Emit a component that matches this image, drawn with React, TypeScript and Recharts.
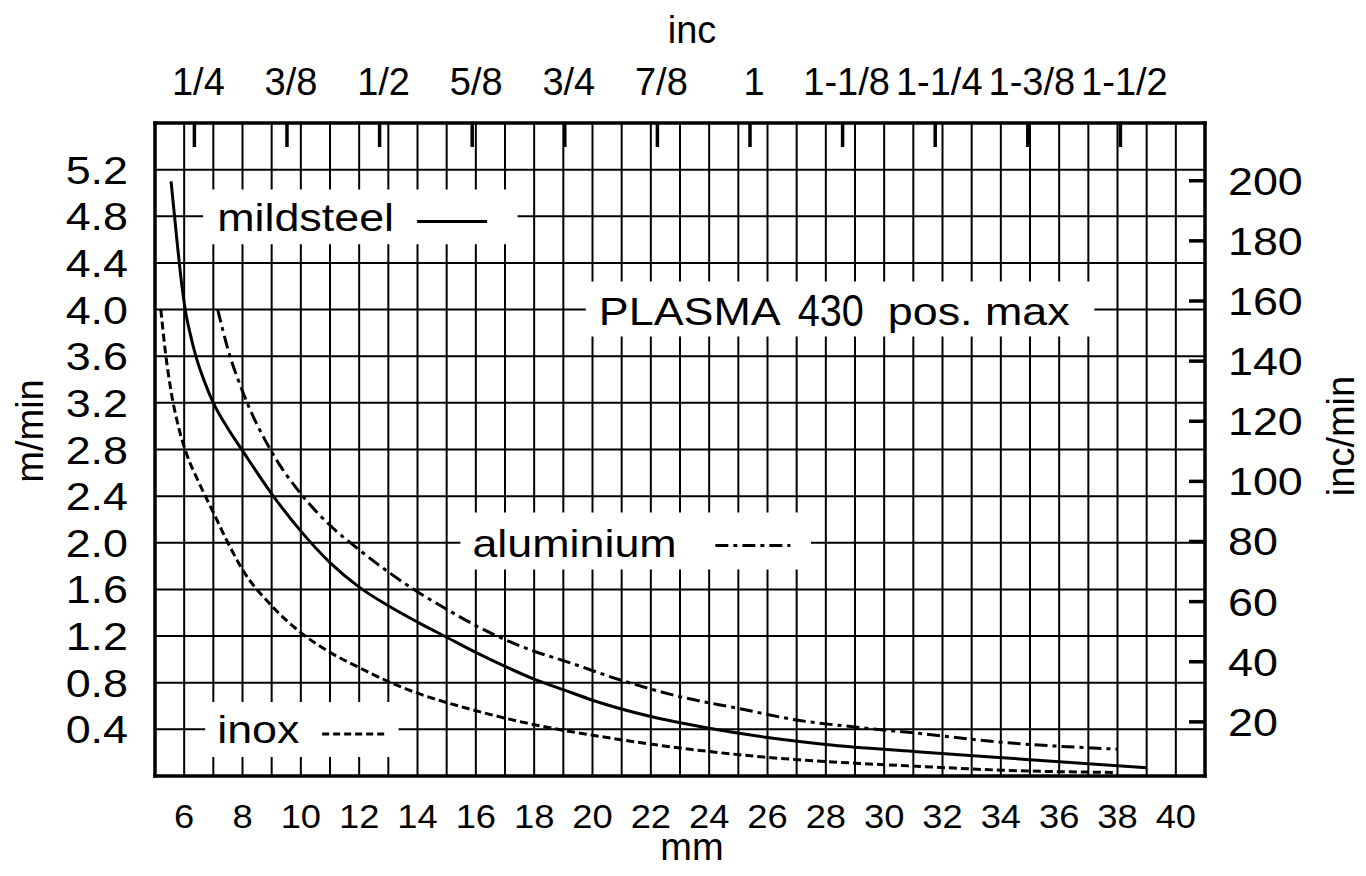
import React from 'react'
import { LineChart, Line, XAxis, YAxis, CartesianGrid, ReferenceArea, Customized } from 'recharts'

const FONT = '"Liberation Sans", Arial, Helvetica, sans-serif'

// material thickness (mm) -> cutting speed (m/min)
const mildsteel = [
    { mm: 5.55, v: 5.1 },
    { mm: 5.75, v: 4.6 },
    { mm: 5.9, v: 4.25 },
    { mm: 6.05, v: 3.98 },
    { mm: 6.2, v: 3.8 },
    { mm: 6.4, v: 3.6 },
    { mm: 6.7, v: 3.38 },
    { mm: 7, v: 3.2 },
    { mm: 7.5, v: 2.98 },
    { mm: 8, v: 2.79 },
    { mm: 9, v: 2.42 },
    { mm: 10, v: 2.1 },
    { mm: 11, v: 1.83 },
    { mm: 12, v: 1.62 },
    { mm: 13, v: 1.46 },
    { mm: 14, v: 1.32 },
    { mm: 15, v: 1.19 },
    { mm: 16, v: 1.06 },
    { mm: 17, v: 0.94 },
    { mm: 18, v: 0.83 },
    { mm: 19, v: 0.74 },
    { mm: 20, v: 0.65 },
    { mm: 22, v: 0.51 },
    { mm: 24, v: 0.41 },
    { mm: 26, v: 0.33 },
    { mm: 28, v: 0.27 },
    { mm: 31, v: 0.21 },
    { mm: 35, v: 0.14 },
    { mm: 39, v: 0.07 },
]

const aluminium = [
    { mm: 7.15, v: 4.0 },
    { mm: 7.5, v: 3.66 },
    { mm: 8, v: 3.3 },
    { mm: 9, v: 2.78 },
    { mm: 10, v: 2.42 },
    { mm: 11, v: 2.15 },
    { mm: 12, v: 1.94 },
    { mm: 13, v: 1.75 },
    { mm: 14, v: 1.58 },
    { mm: 15, v: 1.43 },
    { mm: 16, v: 1.29 },
    { mm: 17, v: 1.17 },
    { mm: 18, v: 1.07 },
    { mm: 19, v: 0.99 },
    { mm: 21, v: 0.82 },
    { mm: 23, v: 0.68 },
    { mm: 25, v: 0.58 },
    { mm: 27, v: 0.48 },
    { mm: 29, v: 0.42 },
    { mm: 31, v: 0.37 },
    { mm: 34, v: 0.29 },
    { mm: 38, v: 0.23 },
]

const inox = [
    { mm: 5.2, v: 4.0 },
    { mm: 5.35, v: 3.65 },
    { mm: 5.55, v: 3.3 },
    { mm: 5.8, v: 3.0 },
    { mm: 6.1, v: 2.75 },
    { mm: 6.5, v: 2.52 },
    { mm: 7, v: 2.26 },
    { mm: 7.5, v: 2.0 },
    { mm: 8, v: 1.77 },
    { mm: 9, v: 1.46 },
    { mm: 10, v: 1.23 },
    { mm: 11, v: 1.06 },
    { mm: 12, v: 0.93 },
    { mm: 13, v: 0.81 },
    { mm: 14, v: 0.71 },
    { mm: 15, v: 0.63 },
    { mm: 16, v: 0.56 },
    { mm: 18, v: 0.44 },
    { mm: 20, v: 0.35 },
    { mm: 23, v: 0.24 },
    { mm: 26, v: 0.16 },
    { mm: 29, v: 0.11 },
    { mm: 31, v: 0.085 },
    { mm: 34, v: 0.05 },
    { mm: 38, v: 0.03 },
]

const mmTicks = [6, 7, 8, 9, 10, 11, 12, 13, 14, 15, 16, 17, 18, 19, 20, 21, 22, 23, 24, 25, 26, 27, 28, 29, 30, 31, 32, 33, 34, 35, 36, 37, 38, 39, 40]
const speedTicks = [0.4, 0.8, 1.2, 1.6, 2.0, 2.4, 2.8, 3.2, 3.6, 4.0, 4.4, 4.8, 5.2]
const incMinTicks = [20, 40, 60, 80, 100, 120, 140, 160, 180, 200]
const inchLabels = ['1/4', '3/8', '1/2', '5/8', '3/4', '7/8', '1', '1-1/8', '1-1/4', '1-3/8', '1-1/2']
const inchMm = [6.35, 9.525, 12.7, 15.875, 19.05, 22.225, 25.4, 28.575, 31.75, 34.925, 38.1]

const BORDER = { stroke: '#000', strokeWidth: 3.5, strokeLinecap: 'square' as const }

function SText({ x, y, size = 39, sx = 1.15, anchor = 'start', rotate = 0, children }: any) {
    return (
        <text
            transform={`translate(${x} ${y}) rotate(${rotate}) scale(${sx} 1)`}
            textAnchor={anchor}
            fontFamily={FONT}
            fontSize={size}
            fill="#000"
        >
            {children}
        </text>
    )
}

const BottomTick = (p: any) => {
    const v = p.payload.value
    if (v % 2 !== 0) return <g />
    return <SText x={p.x} y={p.y + 52} size={33} sx={1.1} anchor="middle">{v}</SText>
}

const LeftTick = (p: any) => (
    <SText x={p.x - 27} y={p.y + 14} anchor="end">{Number(p.payload.value).toFixed(1)}</SText>
)

const RightTick = (p: any) => (
    <g>
        <line x1={p.x - 16} x2={p.x} y1={p.y} y2={p.y} stroke="#000" strokeWidth={3.5} />
        <SText x={p.x + 23} y={p.y + 14}>{p.payload.value}</SText>
    </g>
)

const TopTick = (p: any) => {
    const i = inchMm.indexOf(p.payload.value)
    return (
        <g>
            <line x1={p.x} x2={p.x} y1={p.y} y2={p.y + 24} stroke="#000" strokeWidth={3.5} />
            <SText x={p.x + 4} y={p.y - 28} size={38} sx={1} anchor="middle">{inchLabels[i]}</SText>
        </g>
    )
}

const Titles = () => (
    <g>
        <SText x={692} y={43} size={38} sx={1} anchor="middle">inc</SText>
        <SText x={692} y={860} size={38} sx={1} anchor="middle">mm</SText>
        <SText x={43} y={431} size={38} sx={1} anchor="middle" rotate={-90}>m/min</SText>
        <SText x={1354} y={436} size={38} sx={1} anchor="middle" rotate={-90}>inc/min</SText>
    </g>
)

const sample = (x1: number, x2: number, y: number, dash?: string) => (
    <line x1={x1} x2={x2} y1={y} y2={y} stroke="#000" strokeWidth={3} strokeDasharray={dash} />
)

const mildLabel = ({ viewBox: vb }: any) => (
    <g>
        <SText x={vb.x + 14} y={vb.y + 42}>mildsteel</SText>
        {sample(vb.x + 214, vb.x + 284, vb.y + 32)}
    </g>
)

const plasmaLabel = ({ viewBox: vb }: any) => (
    <g>
        <SText x={vb.x + 13} y={vb.y + 43}>PLASMA</SText>
        <SText x={vb.x + 212} y={vb.y + 44} size={44} sx={0.9}>430</SText>
        <SText x={vb.x + 302} y={vb.y + 43}>pos. max</SText>
    </g>
)

const aluLabel = ({ viewBox: vb }: any) => (
    <g>
        <SText x={vb.x + 12} y={vb.y + 45}>aluminium</SText>
        {sample(vb.x + 255, vb.x + 330, vb.y + 33, '13 5 4 5')}
    </g>
)

const inoxLabel = ({ viewBox: vb }: any) => (
    <g>
        <SText x={vb.x + 12} y={vb.y + 41}>inox</SText>
        {sample(vb.x + 117, vb.x + 180, vb.y + 32, '7 4')}
    </g>
)

export default function App() {
    return (
        <div style={{ position: 'absolute', left: 0, top: 0, background: '#fff' }}>
            <LineChart width={1366} height={876} margin={{ top: 63, right: 61, left: 55, bottom: 40 }}>
                <XAxis
                    xAxisId="bottom"
                    dataKey="mm"
                    type="number"
                    domain={[5, 41]}
                    allowDataOverflow
                    ticks={mmTicks}
                    interval={0}
                    height={60}
                    tickSize={0}
                    tickMargin={0}
                    tickLine={false}
                    axisLine={BORDER}
                    tick={BottomTick}
                />
                <XAxis
                    xAxisId="top"
                    orientation="top"
                    dataKey="mm"
                    type="number"
                    domain={[5, 41]}
                    allowDataOverflow
                    ticks={inchMm}
                    interval={0}
                    height={60}
                    tickSize={0}
                    tickMargin={0}
                    tickLine={false}
                    axisLine={BORDER}
                    tick={TopTick}
                />
                <YAxis
                    yAxisId="left"
                    type="number"
                    domain={[0, 5.6]}
                    allowDataOverflow
                    ticks={speedTicks}
                    interval={0}
                    width={100}
                    tickSize={0}
                    tickMargin={0}
                    tickLine={false}
                    axisLine={BORDER}
                    tick={LeftTick}
                />
                <YAxis
                    yAxisId="right"
                    orientation="right"
                    type="number"
                    domain={[2, 219.2]}
                    allowDataOverflow
                    ticks={incMinTicks}
                    interval={0}
                    width={100}
                    tickSize={0}
                    tickMargin={0}
                    tickLine={false}
                    axisLine={BORDER}
                    tick={RightTick}
                />
                <CartesianGrid xAxisId="bottom" yAxisId="left" stroke="#000" strokeWidth={2} />
                <ReferenceArea xAxisId="bottom" yAxisId="left" x1={6.65} x2={17.43} y1={4.56} y2={5.03} fill="#fff" fillOpacity={1} stroke="none" label={mildLabel} />
                <ReferenceArea xAxisId="bottom" yAxisId="left" x1={19.77} x2={37.21} y1={3.77} y2={4.24} fill="#fff" fillOpacity={1} stroke="none" label={plasmaLabel} />
                <ReferenceArea xAxisId="bottom" yAxisId="left" x1={15.47} x2={27.49} y1={1.77} y2={2.26} fill="#fff" fillOpacity={1} stroke="none" label={aluLabel} />
                <ReferenceArea xAxisId="bottom" yAxisId="left" x1={6.72} x2={13.35} y1={0.163} y2={0.635} fill="#fff" fillOpacity={1} stroke="none" label={inoxLabel} />
                <Line data={mildsteel} dataKey="v" xAxisId="bottom" yAxisId="left" type="monotone" stroke="#000" strokeWidth={3} dot={false} isAnimationActive={false} />
                <Line data={aluminium} dataKey="v" xAxisId="bottom" yAxisId="left" type="monotone" stroke="#000" strokeWidth={3} strokeDasharray="13 5 4 5" dot={false} isAnimationActive={false} />
                <Line data={inox} dataKey="v" xAxisId="bottom" yAxisId="left" type="monotone" stroke="#000" strokeWidth={3} strokeDasharray="8 4" dot={false} isAnimationActive={false} />
                <Customized component={Titles} />
            </LineChart>
        </div>
    )
}
